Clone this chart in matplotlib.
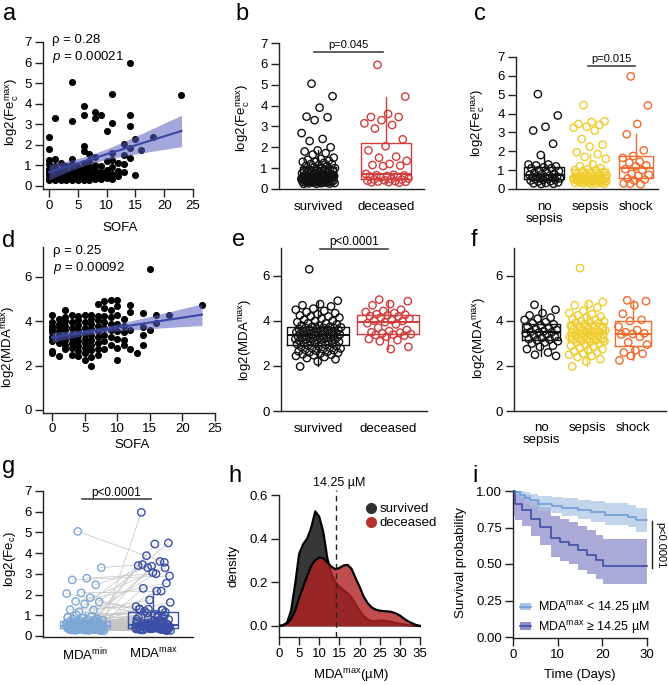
import numpy as np
import matplotlib
matplotlib.use('Agg')
import matplotlib.pyplot as plt
from matplotlib.lines import Line2D
from matplotlib.patches import Patch

plt.rcParams['font.family'] = ['Liberation Sans', 'DejaVu Sans']
plt.rcParams['mathtext.fontset'] = 'custom'
plt.rcParams['mathtext.rm'] = 'Liberation Sans'
plt.rcParams['mathtext.it'] = 'Liberation Sans:italic'
plt.rcParams['font.size'] = 9.5

# ---------------- data ----------------
# panel a: SOFA vs log2(Fe_c max)
a_sofa = [0, 0, 0, 0, 0, 0, 0,
          1, 1, 1, 1, 1, 1, 1,
          2, 2, 2, 2, 2, 2,
          3, 3, 3, 3, 3, 3,
          4, 4, 4, 4, 4, 4, 4,
          5, 5, 5, 5, 5, 5,
          6, 6, 6, 6, 6, 6,
          7, 7, 7, 7, 7, 7,
          8, 8, 8, 8, 8, 8,
          9, 9, 9, 9,
          10, 10, 10, 10,
          11, 11, 11, 11,
          12, 12, 12,
          13,
          4, 14, 23, 11, 6, 1, 4, 6, 8, 8,
          9, 11, 14, 14, 10, 0, 15, 18, 13, 16,
          14, 0, 6, 6, 7, 11, 13, 14, 15, 12,
          13]
a_fe = [0.3, 0.4, 0.55, 0.7, 0.85, 1.05, 1.25,
        0.28, 0.35, 0.45, 0.6, 0.75, 0.95, 1.3,
        0.27, 0.35, 0.45, 0.6, 0.8, 1.1,
        0.28, 0.35, 0.45, 0.55, 0.7, 0.95,
        0.27, 0.35, 0.45, 0.6, 0.8, 1.05, 1.3,
        0.28, 0.36, 0.45, 0.55, 0.7, 0.9,
        0.3, 0.38, 0.5, 0.65, 0.85, 1.1,
        0.3, 0.4, 0.55, 0.7, 0.9, 1.2,
        0.32, 0.45, 0.6, 0.8, 1.0, 1.4,
        0.35, 0.5, 0.7, 0.95,
        0.4, 0.6, 0.8, 1.2,
        0.35, 0.6, 0.9, 1.25,
        0.5, 0.75, 1.1,
        1.05,
        5.07, 6.0, 4.44, 4.47, 3.9, 3.32, 3.18, 3.47, 3.6, 3.3,
        3.44, 3.08, 3.45, 2.9, 2.69, 2.4, 2.3, 2.4, 2.03, 1.75,
        1.87, 1.81, 1.95, 1.69, 1.55, 1.6, 1.5, 1.35, 0.55, 0.65,
        0.7]
a_stats = ['ρ = 0.28', '$p$ = 0.00021']

# panel b: log2(Fe_c max) by outcome
b_groups = ['survived', 'deceased']
b_surv = [5.05, 4.45, 3.9, 3.47, 3.44, 3.3, 2.68, 2.4, 2.3, 2.0,
          1.85, 1.8, 1.72, 1.65, 1.5, 1.45, 1.4, 1.35, 1.3, 1.3,
          1.25, 1.2, 1.2, 1.15, 1.1, 1.1, 1.05, 1.0, 1.0, 0.95,
          0.95, 0.9, 0.9, 0.88, 0.85, 0.85, 0.8, 0.8, 0.78, 0.75,
          0.75, 0.72, 0.7, 0.7, 0.68, 0.66, 0.65, 0.64, 0.62, 0.62,
          0.6, 0.6, 0.58, 0.57, 0.55, 0.55, 0.53, 0.52, 0.5, 0.5,
          0.49, 0.48, 0.47, 0.45, 0.45, 0.44, 0.43, 0.42, 0.4, 0.4,
          0.39, 0.38, 0.37, 0.36, 0.35, 0.35, 0.34, 0.33, 0.32, 0.31,
          0.3, 0.3, 0.29, 0.28, 0.27, 0.26, 0.25, 0.25,
          0.62, 0.6, 0.58, 0.56, 0.55, 0.54, 0.52, 0.5, 0.48, 0.46,
          0.63, 0.61, 0.59, 0.57, 0.53]
b_dec = [5.95, 4.43, 3.6, 3.45, 3.45, 3.3, 3.15, 3.07, 2.9, 2.38,
         2.05, 1.85, 1.55, 1.5, 1.35, 1.2, 1.15, 1.12, 1.1, 0.72,
         0.68, 0.66, 0.65, 0.62, 0.6, 0.58, 0.55, 0.5, 0.48, 0.46,
         0.45, 0.42, 0.4, 0.38, 0.36, 0.35, 0.33, 0.32, 0.3]
b_p = 'p=0.045'

# panel c: log2(Fe_c max) by sepsis status
c_groups = ['no\nsepsis', 'sepsis', 'shock']
c_none = [5.03, 3.9, 3.3, 3.1, 2.4, 1.8, 1.3, 1.3, 1.25, 1.2,
          1.15, 1.1, 1.1, 1.0, 0.95, 0.9, 0.85, 0.8, 0.78, 0.75,
          0.7, 0.68, 0.65, 0.63, 0.62, 0.6, 0.58, 0.56, 0.55, 0.52,
          0.5, 0.48, 0.45, 0.42, 0.4, 0.35, 0.32, 0.3, 0.28, 0.27]
c_sepsis = [4.45, 3.6, 3.55, 3.45, 3.4, 3.3, 3.25, 3.1, 2.65, 2.35,
            2.25, 1.95, 1.85, 1.7, 1.6, 1.3, 1.2, 1.1, 1.05, 1.0,
            1.0, 0.95, 0.9, 0.85, 0.8, 0.78, 0.75, 0.72, 0.7, 0.68,
            0.65, 0.63, 0.62, 0.6, 0.6, 0.58, 0.57, 0.56, 0.55, 0.54,
            0.52, 0.5, 0.5, 0.48, 0.47, 0.45, 0.44, 0.42, 0.4, 0.38,
            0.36, 0.35, 0.33, 0.32, 0.3, 0.3, 0.28, 0.27,
            0.59, 0.58, 0.57, 0.56, 0.55, 0.53, 0.51, 0.5, 0.49, 0.46,
            0.43, 0.41, 0.39, 0.37, 0.34]
c_shock = [5.97, 4.43, 3.45, 2.9, 2.05, 1.75, 1.65, 1.45, 1.4, 1.25,
           1.2, 1.05, 1.0, 0.8, 0.75, 0.7, 0.55, 0.5, 0.45, 0.3,
           0.25, 0.28]
c_p = 'p=0.015'

# panel d: SOFA vs log2(MDA max)
d_sofa = [0, 0, 0, 0, 0, 0, 0, 0, 0,
          1, 1, 1, 1, 1, 1, 1, 1,
          2, 2, 2, 2, 2, 2, 2, 2, 2,
          3, 3, 3, 3, 3, 3, 3, 3,
          4, 4, 4, 4, 4, 4, 4, 4, 4,
          5, 5, 5, 5, 5, 5, 5, 5, 5,
          6, 6, 6, 6, 6, 6, 6, 6, 6, 6,
          7, 7, 7, 7, 7, 7, 7, 7, 7,
          8, 8, 8, 8, 8, 8, 8, 8,
          9, 9, 9, 9, 9, 9, 9,
          10, 10, 10, 10, 10, 10, 10, 10,
          11, 11, 11, 11, 11,
          12, 12, 12, 12,
          13, 14, 14, 14, 14, 15, 15, 16, 16, 18, 23]
d_mda = [2.55, 2.65, 3.1, 3.3, 3.5, 3.65, 3.8, 3.95, 4.3,
         2.45, 3.0, 3.2, 3.4, 3.55, 3.75, 3.9, 4.1,
         2.75, 2.95, 3.15, 3.35, 3.6, 3.8, 4.0, 4.2, 4.5,
         2.5, 2.8, 3.0, 3.25, 3.45, 3.7, 3.95, 4.3,
         2.45, 2.65, 2.9, 3.1, 3.35, 3.6, 3.85, 4.05, 4.25,
         2.25, 2.55, 2.8, 3.0, 3.2, 3.45, 3.7, 3.95, 4.3,
         1.98, 2.4, 2.7, 2.95, 3.15, 3.4, 3.65, 3.9, 4.1, 4.3,
         2.5, 2.75, 3.0, 3.3, 3.55, 3.8, 4.05, 4.25, 4.8,
         2.75, 3.1, 3.4, 3.7, 3.95, 4.25, 4.6, 4.9,
         2.95, 3.3, 3.6, 3.9, 4.2, 4.5, 4.96,
         2.25, 2.8, 3.2, 3.55, 3.9, 4.3, 4.7, 4.96,
         2.95, 3.16, 3.5, 3.8, 4.1,
         2.77, 3.6, 4.4, 4.75,
         2.56, 4.36, 3.75, 3.37, 2.93, 6.35, 3.6, 4.28, 3.93, 4.28, 4.75]
d_stats = ['ρ = 0.25', '$p$ = 0.00092']

# panel e: log2(MDA max) by outcome
e_surv = [6.3, 4.9, 4.75, 4.7, 4.65, 4.55, 4.5, 4.45, 4.4, 4.35,
          4.3, 4.25, 4.2, 4.2, 4.15, 4.1, 4.05, 4.0, 4.0, 3.95,
          3.9, 3.9, 3.85, 3.8, 3.8, 3.75, 3.75, 3.72, 3.7, 3.7,
          3.68, 3.66, 3.64, 3.62, 3.6, 3.6, 3.58, 3.56, 3.54, 3.52,
          3.5, 3.5, 3.48, 3.46, 3.45, 3.44, 3.42, 3.4, 3.4, 3.38,
          3.36, 3.35, 3.34, 3.32, 3.3, 3.3, 3.28, 3.26, 3.25, 3.24,
          3.22, 3.2, 3.2, 3.18, 3.16, 3.15, 3.12, 3.1, 3.1, 3.08,
          3.05, 3.02, 3.0, 3.0, 2.98, 2.95, 2.92, 2.9, 2.88, 2.85,
          2.82, 2.8, 2.78, 2.75, 2.72, 2.7, 2.68, 2.65, 2.62, 2.6,
          2.58, 2.55, 2.52, 2.5, 2.48, 2.45, 2.4, 2.35, 2.3, 2.2, 1.98]
e_dec = [4.95, 4.88, 4.75, 4.7, 4.5, 4.45, 4.4, 4.35, 4.3, 4.28,
         4.25, 4.22, 4.2, 4.15, 4.1, 4.05, 4.02, 4.0, 3.95, 3.9,
         3.85, 3.7, 3.6, 3.55, 3.5, 3.48, 3.45, 3.42, 3.4, 3.38,
         3.35, 3.3, 3.2, 3.15, 3.1, 2.85, 2.75]
e_p = 'p<0.0001'

# panel f: log2(MDA max) by sepsis status
f_none = [4.72, 4.5, 4.35, 4.25, 4.15, 4.1, 4.05, 3.95, 3.9, 3.85,
          3.8, 3.75, 3.7, 3.65, 3.6, 3.55, 3.52, 3.5, 3.48, 3.45,
          3.4, 3.35, 3.3, 3.25, 3.2, 3.18, 3.15, 3.1, 3.05, 3.0,
          2.9, 2.85, 2.75, 2.6, 2.5, 2.45]
f_sepsis = [6.35, 4.85, 4.75, 4.7, 4.6, 4.45, 4.35, 4.3, 4.25, 4.2,
            4.15, 4.1, 4.05, 4.0, 3.98, 3.95, 3.92, 3.9, 3.85, 3.8,
            3.78, 3.75, 3.7, 3.68, 3.65, 3.62, 3.6, 3.58, 3.55, 3.52,
            3.5, 3.5, 3.48, 3.46, 3.44, 3.42, 3.4, 3.38, 3.35, 3.32,
            3.3, 3.28, 3.25, 3.22, 3.2, 3.18, 3.15, 3.12, 3.1, 3.08,
            3.05, 3.0, 2.95, 2.9, 2.85, 2.8, 2.75, 2.7, 2.65, 2.6,
            2.55, 2.5, 2.45, 2.4, 2.3, 2.2, 1.98]
f_shock = [4.92, 4.88, 4.7, 4.32, 4.05, 4.0, 3.75, 3.6, 3.5, 3.45,
           3.42, 3.4, 3.3, 3.05, 2.95, 2.7, 2.6, 2.55, 2.45, 2.25]

# panel g: paired log2(Fe_c) at MDA min / MDA max
g_groups = ['MDA$^{\\mathrm{min}}$', 'MDA$^{\\mathrm{max}}$']
g_min = [5.05, 3.3, 2.79, 2.71, 2.47, 2.08, 2.05, 1.85, 1.67, 1.65,
         1.54, 1.27, 1.25, 1.17, 0.5, 0.4, 0.6, 0.8, 0.45, 0.9,
         0.35, 0.7, 0.55, 0.3, 0.6, 0.75, 0.42,
         0.25, 0.27, 0.28, 0.3, 0.3, 0.32, 0.33, 0.35, 0.35, 0.36,
         0.38, 0.38, 0.4, 0.4, 0.41, 0.42, 0.43, 0.44, 0.45, 0.45,
         0.46, 0.47, 0.48, 0.48, 0.5, 0.5, 0.5, 0.52, 0.53, 0.55,
         0.55, 0.57, 0.58, 0.6, 0.6, 0.62, 0.64, 0.65, 0.67, 0.7,
         0.72, 0.75, 0.78, 0.8, 0.82, 0.85, 0.88, 0.9, 0.95, 1.0,
         0.26, 0.28, 0.29, 0.3, 0.31, 0.33, 0.34, 0.36, 0.37, 0.39,
         0.4, 0.41, 0.43, 0.44, 0.46, 0.47, 0.49, 0.5, 0.51, 0.52,
         0.28, 0.3, 0.33, 0.35, 0.38, 0.42, 0.45, 0.48, 0.5, 0.54]
g_max = [3.55, 3.45, 3.0, 2.9, 3.3, 2.17, 1.3, 3.06, 2.55, 1.2,
         1.0, 1.42, 1.74, 0.9, 5.97, 4.44, 4.49, 3.88, 3.6, 3.4,
         3.37, 3.29, 2.3, 2.17, 1.62, 1.3, 1.25,
         0.3, 0.45, 0.28, 0.55, 0.35, 0.8, 0.42, 0.3, 0.6, 0.5,
         0.38, 1.1, 0.33, 0.48, 0.7, 0.27, 0.52, 0.9, 0.4, 0.36,
         1.25, 0.45, 0.6, 0.32, 0.5, 0.75, 0.41, 0.55, 1.0, 0.3,
         0.65, 0.44, 0.85, 0.5, 1.3, 0.38, 0.58, 0.46, 0.95, 0.62,
         0.35, 0.72, 0.5, 1.05, 0.8, 0.43, 0.68, 0.9, 0.55, 1.15,
         0.3, 0.5, 0.27, 0.42, 0.6, 0.33, 0.45, 0.28, 0.52, 0.38,
         0.7, 0.35, 0.48, 0.3, 0.55, 0.4, 0.62, 0.32, 0.47, 0.36,
         0.29, 0.44, 0.5, 0.34, 0.58, 0.31, 0.46, 0.39, 0.53, 0.41]
g_p = 'p<0.0001'

# panel h: density of MDA max (µM)
h_x = [0, 1, 2, 3, 4, 5, 6, 7, 8, 9, 10, 11, 12, 13, 14, 15, 16, 17,
       18, 19, 20, 21, 22, 23, 24, 25, 26, 27, 28, 29, 30, 31, 32, 33, 34, 35]
h_surv = [0.0, 0.003, 0.015, 0.07, 0.19, 0.33, 0.375, 0.40, 0.45, 0.525,
          0.50, 0.43, 0.31, 0.24, 0.20, 0.18, 0.165, 0.15, 0.13, 0.10,
          0.07, 0.045, 0.03, 0.022, 0.022, 0.025, 0.025, 0.022, 0.018, 0.013,
          0.01, 0.007, 0.004, 0.002, 0.001, 0.0]
h_dec = [0.0, 0.004, 0.012, 0.032, 0.07, 0.13, 0.18, 0.23, 0.275, 0.302,
         0.314, 0.31, 0.292, 0.272, 0.26, 0.266, 0.277, 0.28, 0.262, 0.22,
         0.18, 0.135, 0.105, 0.085, 0.075, 0.07, 0.068, 0.067, 0.064, 0.058,
         0.048, 0.034, 0.022, 0.013, 0.005, 0.0]
h_threshold = 14.25

# panel i: Kaplan-Meier survival by MDA max group
i_t_lo = [0, 0.5, 1.5, 2.7, 3.8, 5.7, 8.7, 11, 14.5, 17.5, 20.5, 25.8, 27.5, 30]
i_s_lo = [1.0, 0.99, 0.975, 0.954, 0.938, 0.91, 0.90, 0.886, 0.87, 0.854, 0.836, 0.824, 0.80, 0.80]
i_up_lo = [1.0, 1.0, 1.0, 0.99, 0.98, 0.965, 0.96, 0.95, 0.94, 0.93, 0.915, 0.905, 0.885, 0.885]
i_lw_lo = [1.0, 0.97, 0.95, 0.92, 0.90, 0.865, 0.85, 0.83, 0.81, 0.79, 0.77, 0.755, 0.72, 0.72]
i_t_hi = [0, 0.5, 2, 4, 6, 8.5, 10.5, 12.5, 14.5, 16.5, 18.5, 20.2, 30]
i_s_hi = [1.0, 0.914, 0.868, 0.81, 0.756, 0.676, 0.648, 0.63, 0.596, 0.56, 0.527, 0.487, 0.487]
i_up_hi = [1.0, 1.0, 0.97, 0.94, 0.89, 0.83, 0.81, 0.79, 0.76, 0.73, 0.70, 0.67, 0.67]
i_lw_hi = [0.83, 0.80, 0.76, 0.69, 0.63, 0.55, 0.52, 0.50, 0.46, 0.43, 0.40, 0.36, 0.36]
i_labels = ['MDA$^{\\mathrm{max}}$ < 14.25 µM', 'MDA$^{\\mathrm{max}}$ ≥ 14.25 µM']
i_p = 'p<0.0001'

# ---------------- figure ----------------
W, H = 668, 685
fig = plt.figure(figsize=(W / 100, H / 100), dpi=100)

BLACK = '#111111'
RED = '#d23c3c'
YEL = '#efcd2e'
ORA = '#f26a2c'
LBLUE = '#7ea7d8'
DBLUE = '#3b4fa6'
REGC = '#3a48a3'
FS = 9.5


def mkax(left, right, top, bottom, xa, ya):
    ax = fig.add_axes([left / W, 1 - bottom / H, (right - left) / W, (bottom - top) / H])
    sx = (xa[3] - xa[1]) / (xa[2] - xa[0])
    ax.set_xlim(xa[1] + (left - xa[0]) * sx, xa[1] + (right - xa[0]) * sx)
    sy = (ya[3] - ya[1]) / (ya[2] - ya[0])
    ax.set_ylim(ya[1] + (bottom - ya[0]) * sy, ya[1] + (top - ya[0]) * sy)
    for s in ('top', 'right'):
        ax.spines[s].set_visible(False)
    for s in ('left', 'bottom'):
        ax.spines[s].set_linewidth(1.0)
        ax.spines[s].set_color('#222222')
    ax.tick_params(direction='out', length=5.5, width=1.0, pad=2.5, labelsize=FS, color='#222222')
    ax._px = (left, right, top, bottom)
    return ax


def ylab(ax, text, cx, cy):
    l, r, t, b = ax._px
    ax.set_ylabel(text, fontsize=FS, va='center', ha='center')
    ax.yaxis.set_label_coords((cx - l) / (r - l), (b - cy) / (b - t))


def xlab(ax, text, cx, cy):
    l, r, t, b = ax._px
    ax.set_xlabel(text, fontsize=FS, va='center', ha='center')
    ax.xaxis.set_label_coords((cx - l) / (r - l), (b - cy) / (b - t))


def jitter(n, w):
    i = np.arange(n)
    return ((i * 0.6180339887 + 0.31) % 1.0 - 0.5) * 2 * w


def box(ax, data, pos, bw, color):
    ax.boxplot([data], positions=[pos], widths=bw, showfliers=False, showcaps=False,
               manage_ticks=False, whis=1.5,
               boxprops=dict(color=color, lw=1.0), whiskerprops=dict(color=color, lw=1.0),
               medianprops=dict(color=color, lw=1.4), zorder=2)


def boxpts(ax, data, pos, bw, jw, color, s=28):
    box(ax, data, pos, bw, color)
    d = np.asarray(data)
    ax.scatter(pos + jitter(len(d), jw), d, s=s, facecolors='none', edgecolors=color,
               linewidths=1.0, zorder=3)


def bracket(ax, x0, x1, y, text, ty, fs=8):
    ax.plot([x0, x1], [y, y], color='#444444', lw=1.2, clip_on=False, zorder=4)
    ax.text((x0 + x1) / 2, ty, text, ha='center', va='center', fontsize=fs, clip_on=False)


def regress(ax, x, y):
    x = np.asarray(x, float)
    y = np.asarray(y, float)
    ax.scatter(x, y, s=26, color='black', zorder=2, linewidths=0)
    b1, b0 = np.polyfit(x, y, 1)
    xs = np.linspace(x.min(), x.max(), 100)
    yh = b0 + b1 * xs
    n = len(x)
    res = y - (b0 + b1 * x)
    s = np.sqrt(np.sum(res ** 2) / (n - 2))
    se = s * np.sqrt(1 / n + (xs - x.mean()) ** 2 / np.sum((x - x.mean()) ** 2))
    ax.fill_between(xs, yh - 1.97 * se, yh + 1.97 * se, color='#5a5fbf', alpha=0.55,
                    linewidth=0, zorder=3)
    ax.plot(xs, yh, color=REGC, lw=1.5, zorder=4)


def panel_letter(ch, x, y):
    fig.text(x / W, 1 - y / H, ch, fontsize=17, ha='left', va='baseline')


# ---- a ----
ax = mkax(43, 196, 35, 189, (49, 0, 193, 25), (186, 0, 42, 7))
regress(ax, a_sofa, a_fe)
ax.set_xticks([0, 5, 10, 15, 20, 25])
ax.set_yticks(range(8))
ax.spines['left'].set_bounds(ax.get_ylim()[0], 7)
ax.spines['bottom'].set_bounds(ax.get_xlim()[0], 25)
ax.text(0.5, 7.1, a_stats[0], fontsize=FS, va='center', ha='left')
ax.text(0.5, 6.27, a_stats[1], fontsize=FS, va='center', ha='left')
ylab(ax, 'log2(Fe$_{\\mathrm{c}}^{\\mathrm{max}}$)', 12, 112)
xlab(ax, 'SOFA', 120, 228)
panel_letter('a', 3, 20)

# ---- b ----
ax = mkax(279, 424, 38, 189, (318, 0, 386, 1), (189, 0, 43, 7))
boxpts(ax, b_surv, 0, 0.53, 0.25, BLACK)
boxpts(ax, b_dec, 1, 0.73, 0.33, RED)
ax.set_yticks(range(8))
ax.set_xticks([0, 1])
ax.set_xticklabels(b_groups)
ax.tick_params(axis='x', length=0, pad=9)
ax.spines['left'].set_bounds(0, 7)
bracket(ax, -0.06, 0.96, 6.57, b_p, 6.92)
ylab(ax, 'log2(Fe$_{\\mathrm{c}}^{\\mathrm{max}}$)', 243, 118)
panel_letter('b', 235, 20)

# ---- c ----
ax = mkax(516, 658, 50, 189, (544, 0, 590, 1), (189, 0, 57, 7))
boxpts(ax, c_none, 0, 0.87, 0.35, BLACK)
boxpts(ax, c_sepsis, 1, 0.80, 0.37, YEL)
boxpts(ax, c_shock, 2, 0.72, 0.30, ORA)
ax.set_yticks(range(8))
ax.set_xticks([0, 1, 2])
ax.set_xticklabels(c_groups, linespacing=1.0)
ax.tick_params(axis='x', length=0, pad=9)
ax.spines['left'].set_bounds(0, 7)
bracket(ax, 0.96, 1.98, 6.52, c_p, 6.9)
ylab(ax, 'log2(Fe$_{\\mathrm{c}}^{\\mathrm{max}}$)', 478, 123)
panel_letter('c', 474, 20)

# ---- d ----
ax = mkax(43, 217, 247, 413, (52, 0, 215, 25), (410, 0, 277, 6))
regress(ax, d_sofa, d_mda)
ax.set_xticks([0, 5, 10, 15, 20, 25])
ax.set_yticks([0, 2, 4, 6])
ax.spines['bottom'].set_bounds(ax.get_xlim()[0], 25)
ax.tick_params(axis='x', pad=1.5)
ax.text(0.15, 7.17, d_stats[0], fontsize=FS, va='center', ha='left')
ax.text(0.15, 6.4, d_stats[1], fontsize=FS, va='center', ha='left')
ylab(ax, 'log2(MDA$^{\\mathrm{max}}$)', 9, 347)
xlab(ax, 'SOFA', 132, 445)
panel_letter('d', 2, 247)

# ---- e ----
ax = mkax(281, 427, 248, 411, (318, 0, 388, 1), (411, 0, 276, 6))
boxpts(ax, e_surv, 0, 0.89, 0.33, BLACK)
boxpts(ax, e_dec, 1, 0.89, 0.33, RED)
ax.set_yticks([0, 2, 4, 6])
ax.set_xticks([0, 1])
ax.set_xticklabels(b_groups)
ax.tick_params(axis='x', length=0, pad=9)
bracket(ax, 0.03, 1.0, 7.2, e_p, 7.52, fs=8.5)
ylab(ax, 'log2(MDA$^{\\mathrm{max}}$)', 246, 340)
panel_letter('e', 232, 246)

# ---- f ----
ax = mkax(514, 666, 248, 411, (541, 0, 587, 1), (411, 0, 276, 6))
boxpts(ax, f_none, 0, 0.83, 0.37, BLACK)
boxpts(ax, f_sepsis, 1, 0.83, 0.40, YEL)
boxpts(ax, f_shock, 2, 0.80, 0.33, ORA)
ax.set_yticks([0, 2, 4, 6])
ax.set_xticks([0, 1, 2])
ax.set_xticklabels(c_groups, linespacing=1.0)
ax.tick_params(axis='x', length=0, pad=8)
ylab(ax, 'log2(MDA$^{\\mathrm{max}}$)', 480, 338)
panel_letter('f', 471, 246)

# ---- g ----
ax = mkax(43, 193, 485, 637, (85, 0, 153, 1), (636, 0, 491, 7))
gmin = np.asarray(g_min)
gmax = np.asarray(g_max)
x0 = 0 + jitter(len(gmin), 0.28)
x1 = 1 + jitter(len(gmax), 0.26)[::-1]
for k in range(len(gmin)):
    ax.plot([x0[k], x1[k]], [gmin[k], gmax[k]], color='#c4c4c4', lw=0.5, zorder=1)
box(ax, gmin, 0, 0.73, LBLUE)
box(ax, gmax, 1, 0.73, DBLUE)
ax.scatter(x0, gmin, s=28, facecolors='none', edgecolors=LBLUE, linewidths=1.0, zorder=3)
ax.scatter(x1, gmax, s=28, facecolors='none', edgecolors=DBLUE, linewidths=1.0, zorder=3)
ax.set_yticks(range(8))
ax.set_xticks([0, 1])
ax.set_xticklabels(g_groups)
ax.tick_params(axis='x', length=0, pad=7)
ax.spines['left'].set_bounds(ax.get_ylim()[0], 7)
bracket(ax, -0.04, 0.97, 6.62, g_p, 6.92, fs=8.5)
ylab(ax, 'log2(Fe$_{\\mathrm{c}}$)', 10, 559)
panel_letter('g', 2, 473)

# ---- h ----
ax = mkax(279, 421, 490, 637, (279, 0, 420, 35), (626, 0, 495, 0.6))
SURVC = '#303030'
DECC = '#b22222'
ax.fill_between(h_x, 0, h_surv, color=SURVC, alpha=0.97, linewidth=0, zorder=1)
ax.plot(h_x, h_surv, color='black', lw=1.6, zorder=2)
ax.fill_between(h_x, 0, h_dec, color=DECC, alpha=0.8, linewidth=0, zorder=3)
ax.plot(h_x, h_dec, color='black', lw=1.6, zorder=4)
ax.axvline(h_threshold, color='#222222', lw=1.0, ls=(0, (4, 3)), zorder=5)
ax.text(h_threshold + 0.6, 0.655, '14.25 µM', ha='center', va='center', fontsize=9, clip_on=False)
ax.set_xticks([0, 5, 10, 15, 20, 25, 30, 35])
ax.set_yticks([0, 0.2, 0.4, 0.6])
ax.set_yticklabels(['0.0', '0.2', '0.4', '0.6'])
ax.spines['left'].set_bounds(ax.get_ylim()[0], 0.6)
ax.spines['bottom'].set_bounds(0, 35)
hh = [Line2D([], [], ls='', marker='o', markersize=7, markerfacecolor=SURVC, markeredgecolor=SURVC),
      Line2D([], [], ls='', marker='o', markersize=7, markerfacecolor='#b5332a', markeredgecolor='#b5332a')]
ax.legend(hh, ['survived', 'deceased'], loc='upper left', frameon=False, fontsize=FS,
          handlelength=0.6, handletextpad=0.35, labelspacing=0.15, borderpad=0, borderaxespad=0,
          bbox_to_anchor=((367 - 279) / 142, (637 - 503) / 147))
ylab(ax, 'density', 234, 566)
xlab(ax, 'MDA$^{\\mathrm{max}}$(µM)', 351, 675)
panel_letter('h', 228, 482)

# ---- i ----
ax = mkax(513, 650, 485, 638, (513, 0, 647, 30), (637, 0, 491, 1.0))
LOC, LOB = '#6f9fd6', '#aac4e2'
HIC, HIB = '#3f4ea2', '#8e8ecb'
ax.fill_between(i_t_hi, i_lw_hi, i_up_hi, step='post', color=HIB, alpha=0.75, linewidth=0, zorder=1)
ax.fill_between(i_t_lo, i_lw_lo, i_up_lo, step='post', color=LOB, alpha=0.7, linewidth=0, zorder=2)
ax.step(i_t_lo, i_s_lo, where='post', color=LOC, lw=1.2, zorder=3)
ax.step(i_t_hi, i_s_hi, where='post', color=HIC, lw=1.2, zorder=3)
ax.set_xticks([0, 10, 20, 30])
ax.set_yticks([0, 0.25, 0.5, 0.75, 1.0])
ax.set_yticklabels(['0.00', '0.25', '0.50', '0.75', '1.00'])
ax.spines['left'].set_bounds(ax.get_ylim()[0], 1.0)
ax.spines['bottom'].set_bounds(0, 30)
ax.plot([31.1, 31.1], [0.47, 0.795], color='#222222', lw=1.0, clip_on=False)
ax.text(32.9, 0.632, i_p, rotation=-90, ha='center', va='center', fontsize=8, clip_on=False)
ih = [(Patch(facecolor=LOB, edgecolor='none'), Line2D([], [], color=LOC, lw=1.2)),
      (Patch(facecolor=HIB, edgecolor='none'), Line2D([], [], color=HIC, lw=1.2))]
ax.legend(ih, i_labels, loc='upper left', frameon=False, fontsize=9,
          handlelength=0.9, handleheight=0.6, handletextpad=0.5, labelspacing=0.2,
          borderpad=0, borderaxespad=0,
          bbox_to_anchor=((520 - 513) / 137, (638 - 599) / 153))
ylab(ax, 'Survival probability', 461, 563)
xlab(ax, 'Time (Days)', 580, 675)
panel_letter('i', 472, 482)

fig.savefig('out.png', dpi=100)
